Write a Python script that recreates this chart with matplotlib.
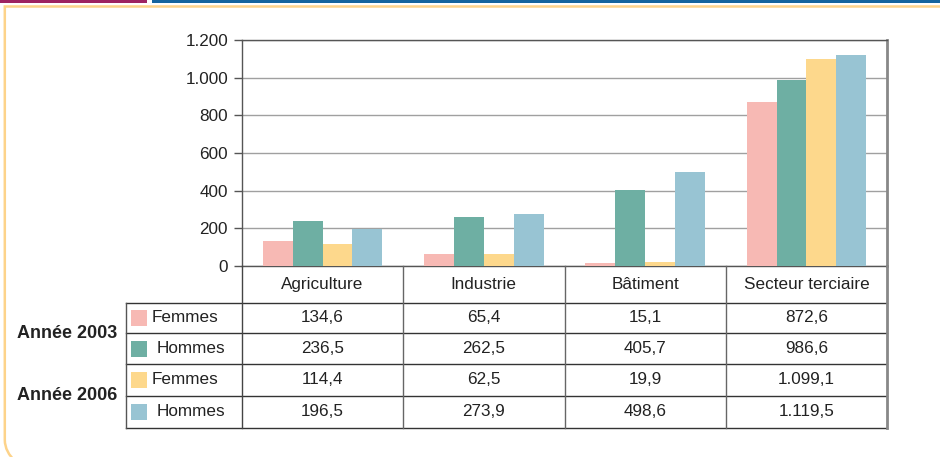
import matplotlib
matplotlib.use("Agg")
import matplotlib.pyplot as plt
from matplotlib.patches import Rectangle, PathPatch
from matplotlib.path import Path
from matplotlib.lines import Line2D
import numpy as np

plt.rcParams['font.family'] = ['Liberation Sans', 'DejaVu Sans']

categories = ["Agriculture", "Industrie", "Bâtiment", "Secteur terciaire"]
femmes_2003 = [134.6, 65.4, 15.1, 872.6]
hommes_2003 = [236.5, 262.5, 405.7, 986.6]
femmes_2006 = [114.4, 62.5, 19.9, 1099.1]
hommes_2006 = [196.5, 273.9, 498.6, 1119.5]
series_labels = ["Femmes", "Hommes", "Femmes", "Hommes"]
year_labels = ["Année 2003", "Année 2006"]
yticks = [0, 200, 400, 600, 800, 1000, 1200]
colors = ["#F7B9B4", "#6EAFA3", "#FDD88C", "#98C4D3"]

series = [femmes_2003, hommes_2003, femmes_2006, hommes_2006]

W, H = 940, 457
fig = plt.figure(figsize=(W / 100, H / 100), dpi=100)
FS = 12.3

def fx(x):
    return x / W

def fy(y):
    return 1 - y / H

# decorations
fig.patches.append(Rectangle((fx(0), fy(2.5)), fx(147), 2.5 / H, transform=fig.transFigure,
                             facecolor="#9E2361", edgecolor="none"))
fig.patches.append(Rectangle((fx(152), fy(2.5)), fx(940 - 152), 2.5 / H, transform=fig.transFigure,
                             facecolor="#16649E", edgecolor="none"))
verts = [(fx(960), fy(6.5)), (fx(4.8), fy(6.5)), (fx(4.8), fy(440)),
         (fx(4.8), fy(452)), (fx(16), fy(462))]
codes = [Path.MOVETO, Path.LINETO, Path.LINETO, Path.CURVE3, Path.CURVE3]
fig.patches.append(PathPatch(Path(verts, codes), transform=fig.transFigure,
                             facecolor="none", edgecolor="#FDD38A", linewidth=1.8))

# plot area
L, R, T, B = 242, 887, 40, 266
ax = fig.add_axes([fx(L), fy(B), fx(R - L), (B - T) / H])
ncat = len(categories)
x = np.arange(ncat)
bw = 0.185
for i, (vals, c) in enumerate(zip(series, colors)):
    ax.bar(x + (i - 1.5) * bw, vals, width=bw, color=c, edgecolor="none", zorder=3)
ax.set_xlim(-0.5, ncat - 0.5)
ax.set_ylim(0, 1200)
ax.set_yticks(yticks)
ax.set_yticklabels([f"{v:,}".replace(",", ".") for v in yticks], fontsize=FS, color="#222222")
ax.set_xticks([])
ax.yaxis.grid(True, color="#A0A0A0", linewidth=1.0, zorder=0)
ax.tick_params(axis="y", length=6, width=1, color="#555555", pad=4)
for s in ["left", "bottom", "top"]:
    ax.spines[s].set_color("#555555")
    ax.spines[s].set_linewidth(1.0)
ax.spines["right"].set_color("#888888")
ax.spines["right"].set_linewidth(2.0)

# table
col_x = [L + (R - L) * k / ncat for k in range(ncat + 1)]
header_bottom = 303
row_y = [303, 333, 364, 396, 428]
legend_left = 126
tc = "#222222"

def hline(x0, x1, y, color="#333333", lw=1.0):
    fig.add_artist(Line2D([fx(x0), fx(x1)], [fy(y), fy(y)], transform=fig.transFigure,
                          color=color, linewidth=lw))

def vline(x, y0, y1, color="#666666", lw=1.0):
    fig.add_artist(Line2D([fx(x), fx(x)], [fy(y0), fy(y1)], transform=fig.transFigure,
                          color=color, linewidth=lw))

for y in row_y:
    hline(legend_left, R, y)
vline(legend_left, row_y[0], row_y[-1], color="#555555")
vline(L, B, row_y[-1], color="#444444")
for cx in col_x[1:-1]:
    vline(cx, B, row_y[-1])
vline(R, B, row_y[-1], color="#888888", lw=2.0)

for k, cat in enumerate(categories):
    cx = (col_x[k] + col_x[k + 1]) / 2
    fig.text(fx(cx), fy((B + header_bottom) / 2), cat, ha="center", va="center",
             fontsize=FS, color=tc)

for r, (vals, c, lab) in enumerate(zip(series, colors, series_labels)):
    yc = (row_y[r] + row_y[r + 1]) / 2
    fig.patches.append(Rectangle((fx(131), fy(yc + 8)), 16 / W, 16 / H, transform=fig.transFigure,
                                 facecolor=c, edgecolor="none"))
    offset = 152 if lab == "Femmes" else 157
    fig.text(fx(offset), fy(yc), lab, ha="left", va="center", fontsize=FS, color=tc)
    for k, v in enumerate(vals):
        cx = (col_x[k] + col_x[k + 1]) / 2
        s = f"{v:,.1f}".replace(",", "X").replace(".", ",").replace("X", ".")
        fig.text(fx(cx), fy(yc), s, ha="center", va="center", fontsize=FS, color=tc)

for j, yl in enumerate(year_labels):
    fig.text(fx(117), fy(row_y[2 * j + 1]), yl, ha="right", va="center", fontsize=13,
             fontweight="bold", color=tc)

fig.savefig("out.png", dpi=100)
